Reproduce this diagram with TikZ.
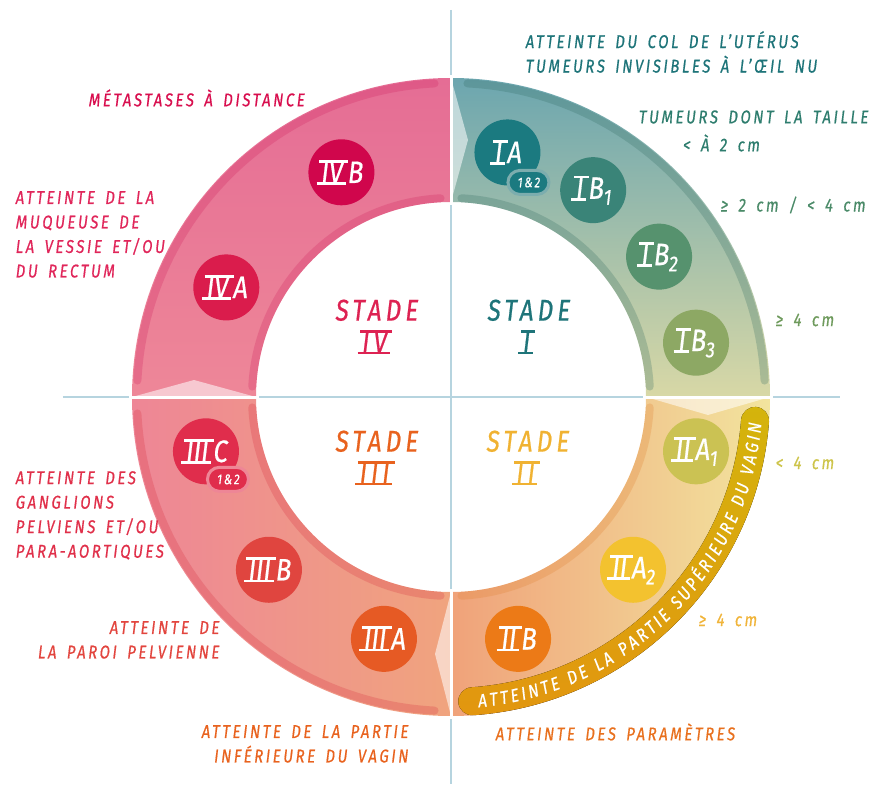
\documentclass[tikz,border=0pt]{standalone}
\usepackage{fontspec}
\setmainfont{Fira Sans}
\newfontfamily\hand[FakeStretch=0.8,FakeSlant=0.12,FakeBold=0.6,LetterSpace=14,WordSpace=1.6]{Fira Sans}
\newfontfamily\handnum[FakeStretch=0.82,FakeSlant=0.12,FakeBold=0.6]{Fira Sans}
\usepackage{tikz}
\usetikzlibrary{positioning,decorations.text}

\definecolor{axisblue}{HTML}{B6D4DF}
% ring
\definecolor{bandIa}{HTML}{6CA6AF}
\definecolor{bandIb}{HTML}{D8D8A6}
\definecolor{bandIIa}{HTML}{F0A27A}
\definecolor{bandIIb}{HTML}{F2E49E}
\definecolor{bandIIIa}{HTML}{EE8696}
\definecolor{bandIIIb}{HTML}{F0A47E}
\definecolor{bandIVa}{HTML}{E56D95}
\definecolor{bandIVb}{HTML}{EE8798}
\definecolor{rimI}{HTML}{306A60}
\definecolor{rimII}{HTML}{E08030}
\definecolor{rimIII}{HTML}{D83040}
\definecolor{rimIV}{HTML}{D0205E}
\definecolor{ribbonA}{HTML}{D4B40C}
\definecolor{ribbonB}{HTML}{E2960F}
% dots
\definecolor{dIA}{HTML}{1B7A80}
\definecolor{dIBa}{HTML}{3A8478}
\definecolor{dIBb}{HTML}{56926E}
\definecolor{dIBc}{HTML}{8DA864}
\definecolor{dIIAa}{HTML}{CBC253}
\definecolor{dIIAb}{HTML}{F3C22F}
\definecolor{dIIB}{HTML}{EC7A17}
\definecolor{dIIIA}{HTML}{E65A24}
\definecolor{dIIIB}{HTML}{E0453F}
\definecolor{dIIIC}{HTML}{E02D4C}
\definecolor{dIVA}{HTML}{DA1C4C}
\definecolor{dIVB}{HTML}{D0064C}
% texts
\definecolor{tI}{HTML}{1E7479}
\definecolor{tIa}{HTML}{2E7D6E}
\definecolor{tIb}{HTML}{4A8A68}
\definecolor{tIc}{HTML}{6E9A5C}
\definecolor{tII}{HTML}{F0B232}
\definecolor{tIIa}{HTML}{CDC44A}
\definecolor{tIIb}{HTML}{F0B43A}
\definecolor{tIII}{HTML}{E8621E}
\definecolor{tIIIa}{HTML}{E8701E}
\definecolor{tIIIb}{HTML}{E2453E}
\definecolor{tIIIc}{HTML}{E0304A}
\definecolor{tIV}{HTML}{DD2252}
\definecolor{tIVa}{HTML}{E0265A}
\definecolor{tIVb}{HTML}{D80E4E}

% roman numeral with a bar above and below
\newcommand\rn[1]{{\setbox0\hbox{#1}%
  \rlap{\kern-.12em\rule[-.06em]{\dimexpr\wd0+.24em\relax}{.09em}}%
  \rlap{\kern\dimexpr-.12em+\ht0/8\relax\rule[\dimexpr\ht0-.03em\relax]{\dimexpr\wd0+.24em\relax}{.09em}}%
  \box0\kern.16em}}
% one quarter of the ring
\newcommand\ringpart[2]{(#1:319) arc[start angle=#1,end angle=#2,radius=319] -- (#2:195) arc[start angle=#2,end angle=#1,radius=195] -- cycle}

\begin{document}
\begin{tikzpicture}[x=1pt,y=1pt,
    lbl/.style={inner sep=0pt,font=\hand\fontsize{18.5}{24.5}\selectfont},
    stade/.style={inner sep=0pt,align=center,font=\hand\fontsize{30}{32}\selectfont},
    stagedot/.style={circle,minimum size=66pt,inner sep=0pt,text=white,font=\handnum\fontsize{31}{31}\selectfont},
    badge/.style={draw,line width=3pt,rounded corners=12pt,minimum width=41pt,minimum height=24pt,inner sep=0pt,text=white,font=\hand\fontsize{14}{14}\selectfont},
    rim/.style={line width=8pt,line cap=round,draw opacity=.25},
    chevron/.style={fill=white,fill opacity=.55},
    gap/.style={draw=white,line width=3pt}]
  \useasboundingbox (-451,-387) rectangle (442,397);

  % axes
  \draw[axisblue,line width=2.5pt] (0,387) -- (0,-387);
  \draw[axisblue,line width=2.5pt] (-388,0) -- (389,0);

  % ring
  \path[top color=bandIa,bottom color=bandIb] \ringpart{90}{0};
  \path[left color=bandIIa,right color=bandIIb] \ringpart{0}{-90};
  \path[left color=bandIIIa,right color=bandIIIb] \ringpart{-90}{-180};
  \path[top color=bandIVa,bottom color=bandIVb] \ringpart{180}{90};

  \fill[chevron] (0,319) -- (17,257) -- (0,195) -- cycle;
  \fill[chevron] (319,0) -- (257,-18) -- (195,0) -- cycle;
  \fill[chevron] (0,-319) -- (-16,-257) -- (0,-195) -- cycle;
  \fill[chevron] (-319,0) -- (-257,17) -- (-195,0) -- cycle;

  \draw[rim,draw=rimI] (87:314) arc[start angle=87,end angle=3,radius=314];
  \draw[rim,draw=rimI] (87:199) arc[start angle=87,end angle=3,radius=199];
  \draw[rim,draw=rimII] (-3:199) arc[start angle=-3,end angle=-87,radius=199];
  \draw[rim,draw=rimIII] (-93:314) arc[start angle=-93,end angle=-177,radius=314];
  \draw[rim,draw=rimIII] (-93:199) arc[start angle=-93,end angle=-177,radius=199];
  \draw[rim,draw=rimIV] (177:314) arc[start angle=177,end angle=93,radius=314];
  \draw[rim,draw=rimIV] (177:199) arc[start angle=177,end angle=93,radius=199];

  % ribbon of stage II
  \fill[top color=ribbonA,bottom color=ribbonB] (-4.5:319) arc[start angle=-4.5,end angle=-86,radius=319]
    arc[start angle=-86,end angle=-266,radius=14] arc[start angle=-86,end angle=-4.5,radius=291]
    arc[start angle=175.5,end angle=-4.5,radius=14] -- cycle;
  \path[decorate,decoration={text along path,text color=white,text align={fit to path},raise=-6.5pt,
      text={|\handnum\fontsize{18.5}{18.5}\selectfont|ATTEINTE DE LA PARTIE SUPÉRIEURE DU VAGIN}}]
    (-85:305) arc[start angle=-85,end angle=-5,radius=305];

  \draw[gap] (0,192) -- (0,322);
  \draw[gap] (0,-192) -- (0,-322);
  \draw[gap] (192,0) -- (322,0);
  \draw[gap] (-192,0) -- (-322,0);

  % sub-stages
  \node[stagedot,fill=dIA] (IA) at (77:251) {\rn{I}A};
  \node[stagedot,fill=dIBa] (IB1) at (55.5:251) {\rn{I}B\textsubscript{1}};
  \node[stagedot,fill=dIBb] (IB2) at (34:251) {\rn{I}B\textsubscript{2}};
  \node[stagedot,fill=dIBc] (IB3) at (12.5:251) {\rn{I}B\textsubscript{3}};
  \node[stagedot,fill=dIIAa] (IIA1) at (-12.5:251) {\rn{II}A\textsubscript{1}};
  \node[stagedot,fill=dIIAb] (IIA2) at (-43.5:251) {\rn{II}A\textsubscript{2}};
  \node[stagedot,fill=dIIB] (IIB) at (-74.5:251) {\rn{II}B};
  \node[stagedot,fill=dIIIA] (IIIA) at (-105.5:251) {\rn{III}A};
  \node[stagedot,fill=dIIIB] (IIIB) at (-136.5:251) {\rn{III}B};
  \node[stagedot,fill=dIIIC] (IIIC) at (-167.5:251) {\rn{III}C};
  \node[stagedot,fill=dIVA] (IVA) at (154:250) {\rn{IV}A};
  \node[stagedot,fill=dIVB] (IVB) at (116:250) {\rn{IV}B};

  \node[badge,fill=dIA,draw=bandIa!85!bandIb] (IAb) at ([shift={(21,-30)}]IA.center) {1\&2};
  \node[badge,fill=dIIIC,draw=bandIIIa] (IIICb) at ([shift={(22,-28)}]IIIC.center) {1\&2};

  % stages
  \node[stade,text=tI] (stI) at (77,70) {STADE\\\rn{I}};
  \node[stade,text=tII] (stII) at (76,-61) {STADE\\\rn{II}};
  \node[stade,text=tIII] (stIII) at (-75,-61) {STADE\\\rn{III}};
  \node[stade,text=tIV] (stIV) at (-75,70) {STADE\\\rn{IV}};

  % descriptions
  \node[lbl,text=tI,anchor=north west,align=left] (col) at (74,366)
    {ATTEINTE DU COL DE L’UTÉRUS\\TUMEURS INVISIBLES À L’ŒIL NU};
  \node[lbl,text=tIa] (taille) at (302,280) {TUMEURS DONT LA TAILLE};
  \node[lbl,text=tIa] (taille2) at (270,254) {< À 2 cm};
  \node[lbl,text=tIb,anchor=west] (szIB2) at (269,192) {≥ 2 cm / < 4 cm};
  \node[lbl,text=tIc,anchor=west] (szIB3) at (324,77) {≥ 4 cm};
  \node[lbl,text=tIIa,anchor=west] (szIIA1) at (324,-66) {< 4 cm};
  \node[lbl,text=tIIb,anchor=west] (szIIA2) at (247,-223) {≥ 4 cm};
  \node[lbl,text=tIIIa,anchor=west] (param) at (44,-335) {ATTEINTE DES PARAMÈTRES};
  \node[lbl,text=tIII,anchor=north east,align=right] (vagin) at (-43,-328)
    {ATTEINTE DE LA PARTIE\\INFÉRIEURE DU VAGIN};
  \node[lbl,text=tIIIb,anchor=north east,align=right] (paroi) at (-232,-224)
    {ATTEINTE DE\\LA PAROI PELVIENNE};
  \node[lbl,text=tIIIc,anchor=north west,align=left] (gangl) at (-436,-74)
    {ATTEINTE DES\\GANGLIONS\\PELVIENS ET/OU\\PARA-AORTIQUES};
  \node[lbl,text=tIVa,anchor=north west,align=left] (muq) at (-436,206)
    {ATTEINTE DE LA\\MUQUEUSE DE\\LA VESSIE ET/OU\\DU RECTUM};
  \node[lbl,text=tIVb,anchor=west] (meta) at (-363,299) {MÉTASTASES À DISTANCE};
\end{tikzpicture}
\end{document}
